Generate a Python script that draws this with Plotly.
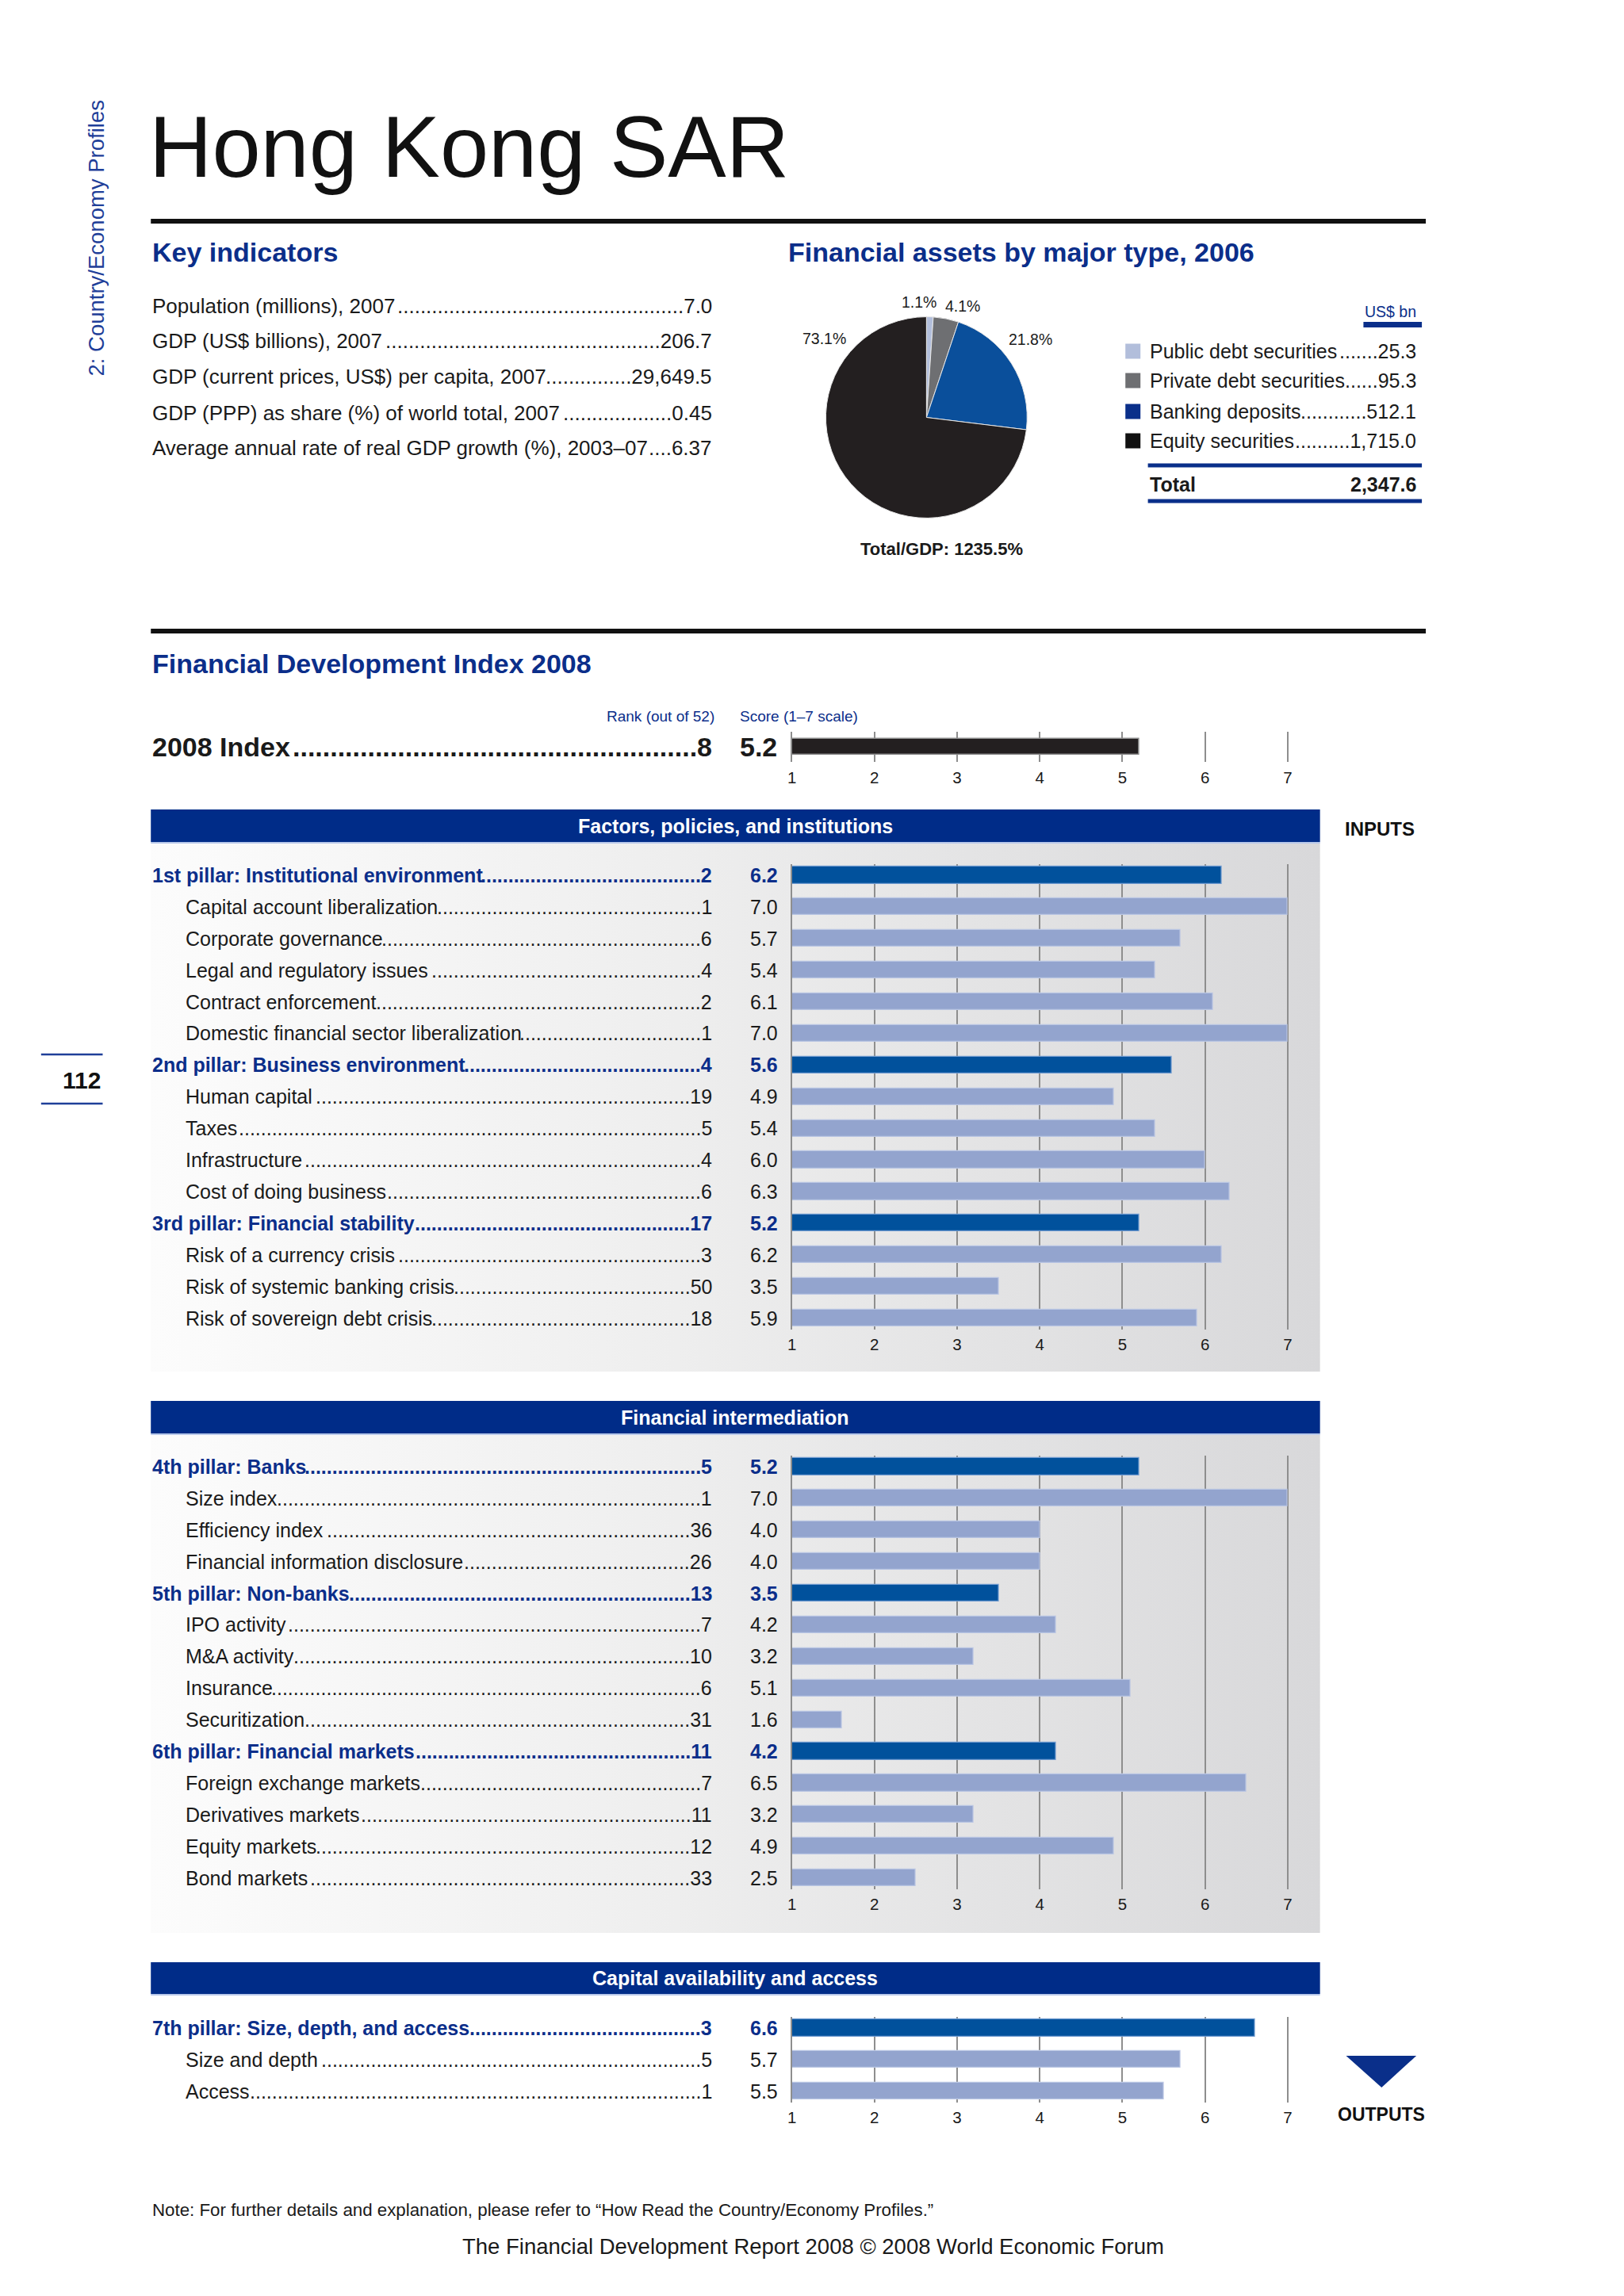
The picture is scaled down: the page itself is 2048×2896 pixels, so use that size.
import plotly.graph_objects as go

W, H = 2048, 2896
OFF = 8
FW = W - 2 * OFF
FH = H - 2 * OFF - 4

# ---------------- data ----------------
page_title = "Hong Kong SAR"
side_label = "2: Country/Economy Profiles"
page_number = "112"

key_labels = [
    "Population (millions), 2007",
    "GDP (US$ billions), 2007",
    "GDP (current prices, US$) per capita, 2007",
    "GDP (PPP) as share (%) of world total, 2007",
    "Average annual rate of real GDP growth (%), 2003–07",
]
key_values = ["7.0", "206.7", "29,649.5", "0.45", "6.37"]

asset_types = ["Public debt securities", "Private debt securities",
               "Banking deposits", "Equity securities"]
asset_values = [25.3, 95.3, 512.1, 1715.0]
asset_total = 2347.6
assets_to_gdp = 1235.5

index_rank = 8
index_score = 5.2

p1_labels = ["1st pillar: Institutional environment", "Capital account liberalization",
             "Corporate governance", "Legal and regulatory issues", "Contract enforcement",
             "Domestic financial sector liberalization", "2nd pillar: Business environment",
             "Human capital", "Taxes", "Infrastructure", "Cost of doing business",
             "3rd pillar: Financial stability", "Risk of a currency crisis",
             "Risk of systemic banking crisis", "Risk of sovereign debt crisis"]
p1_ranks = [2, 1, 6, 4, 2, 1, 4, 19, 5, 4, 6, 17, 3, 50, 18]
p1_scores = [6.2, 7.0, 5.7, 5.4, 6.1, 7.0, 5.6, 4.9, 5.4, 6.0, 6.3, 5.2, 6.2, 3.5, 5.9]

p2_labels = ["4th pillar: Banks", "Size index", "Efficiency index",
             "Financial information disclosure", "5th pillar: Non-banks", "IPO activity",
             "M&A activity", "Insurance", "Securitization", "6th pillar: Financial markets",
             "Foreign exchange markets", "Derivatives markets", "Equity markets", "Bond markets"]
p2_ranks = [5, 1, 36, 26, 13, 7, 10, 6, 31, 11, 7, 11, 12, 33]
p2_scores = [5.2, 7.0, 4.0, 4.0, 3.5, 4.2, 3.2, 5.1, 1.6, 4.2, 6.5, 3.2, 4.9, 2.5]

p3_labels = ["7th pillar: Size, depth, and access", "Size and depth", "Access"]
p3_ranks = [3, 5, 1]
p3_scores = [6.6, 5.7, 5.5]

panel_titles = ["Factors, policies, and institutions", "Financial intermediation",
                "Capital availability and access"]
score_ticks = [1, 2, 3, 4, 5, 6, 7]

note_text = "Note: For further details and explanation, please refer to “How Read the Country/Economy Profiles.”"
footer_text = "The Financial Development Report 2008 © 2008 World Economic Forum"

# ---------------- styling ----------------
FONT = "Liberation Sans, Arial, Helvetica, sans-serif"
BLACK = "#1a1a1a"
NAVY_TXT = "#0b2e8a"
HEADER = "#002c88"
PILLAR_BAR = "#01519c"
SUB_BAR = "#93a4ce"
GRID = "#8e8e8e"
PIE_COLORS = ["#b2bedb", "#6e6f72", "#0a4f9b", "#231f20"]
LEG_COLORS = ["#b2bedb", "#6e6f72", "#0a2f8a", "#111111"]

# Arial / Liberation Sans advance widths (1/1000 em)
REG = {' ': 278, '%': 889, '&': 667, '(': 333, ')': 333, ',': 278, '-': 333, '.': 278,
       '/': 278, ':': 278, '$': 556, '–': 556, '©': 737, '“': 333, '”': 333,
       'A': 667, 'B': 667, 'C': 722, 'D': 722, 'E': 667, 'F': 611, 'G': 778, 'H': 722,
       'I': 278, 'J': 500, 'K': 667, 'L': 556, 'M': 833, 'N': 722, 'O': 778, 'P': 667,
       'Q': 778, 'R': 722, 'S': 667, 'T': 611, 'U': 722, 'V': 667, 'W': 944, 'X': 667,
       'Y': 667, 'Z': 611, 'a': 556, 'b': 556, 'c': 500, 'd': 556, 'e': 556, 'f': 278,
       'g': 556, 'h': 556, 'i': 222, 'j': 222, 'k': 500, 'l': 222, 'm': 833, 'n': 556,
       'o': 556, 'p': 556, 'q': 556, 'r': 333, 's': 500, 't': 278, 'u': 556, 'v': 500,
       'w': 722, 'x': 500, 'y': 500, 'z': 500}
BOLD = dict(REG)
BOLD.update({':': 333, '&': 722, 'A': 722, 'B': 722, 'J': 556, 'K': 722, 'L': 611,
             'b': 611, 'c': 556, 'd': 611, 'f': 333, 'g': 611, 'h': 611, 'i': 278,
             'j': 278, 'k': 556, 'l': 278, 'm': 889, 'n': 611, 'o': 611, 'p': 611,
             'q': 611, 'r': 389, 's': 556, 't': 333, 'u': 611, 'v': 556, 'w': 778,
             'x': 556, 'y': 556})


def tw(t, size, bold=False):
    tbl = BOLD if bold else REG
    return sum(tbl.get(c, 556) for c in t) / 1000 * size


def leader(label, value, x_left, x_right, size, bold=False):
    start = x_left + tw(label, size, bold) + 3
    end = x_right - tw(value, size, bold) - 1
    n = max(0, int((end - start) / tw(".", size, bold)))
    return "." * n + value


def dx(px):
    return (px - OFF) / FW


def dy(py):
    return 1 - (py - OFF) / FH


annotations = []
shapes = []


def text(t, x, y, size, color=BLACK, bold=False, xanchor="left",
         yanchor="middle", yref="y", angle=0):
    t = t.replace("&", "&amp;")
    if bold:
        t = "<b>" + t + "</b>"
    annotations.append(dict(text=t, x=x, y=y, xref="x", yref=yref, xanchor=xanchor,
                            yanchor=yanchor, showarrow=False, textangle=angle,
                            font=dict(family=FONT, size=size, color=color)))


def rect(x0, y0, x1, y1, color):
    shapes.append(dict(type="rect", xref="x", yref="y", x0=x0, y0=y0, x1=x1, y1=y1,
                       fillcolor=color, line=dict(width=0), layer="above"))


def hline(x0, x1, y, color, width):
    shapes.append(dict(type="line", xref="x", yref="y", x0=x0, x1=x1, y0=y, y1=y,
                       line=dict(color=color, width=width), layer="above"))


fig = go.Figure()

# ---------------- page header ----------------
text(page_title, 181, 184, 110, color="#111111")
hline(185, 1800, 279, "#111111", 6)
text(side_label, 115, 301, 27.5, color="#1f3f99", xanchor="center", angle=-90)
hline(46, 124, 1330, "#1f3f99", 2.5)
hline(46, 124, 1392, "#1f3f99", 2.5)
text(page_number, 124, 1362, 30, color="#111111", bold=True, xanchor="right")

# ---------------- key indicators ----------------
text("Key indicators", 185, 318, 34, color=NAVY_TXT, bold=True)
KEY_Y = [386, 430, 475, 521, 565]
KSIZE = 26
for lab, val, y in zip(key_labels, key_values, KEY_Y):
    text(lab, 185, y, KSIZE)
    text(leader(lab, val, 185, 898, KSIZE), 898, y, KSIZE, xanchor="right")

# ---------------- financial assets pie ----------------
text("Financial assets by major type, 2006", 990, 318, 34, color=NAVY_TXT, bold=True)
fig.add_trace(go.Pie(labels=asset_types, values=asset_values, sort=False,
                     direction="clockwise", rotation=0, textinfo="none",
                     marker=dict(colors=PIE_COLORS, line=dict(color="#e8e8e8", width=1)),
                     domain=dict(x=[dx(1040), dx(1295)], y=[dy(656), dy(397)]),
                     hoverinfo="label+value", showlegend=False))
tot = sum(asset_values)
PCT_POS = [(1158, 381, "center"), (1213, 386, "center"), (1270, 428, "left"), (1068, 427, "right")]
for v, (px, py, anc) in zip(asset_values, PCT_POS):
    text(f"{v / tot * 100:.1f}%", px, py, 19.5, xanchor=anc)
text(f"Total/GDP: {assets_to_gdp:.1f}%", 1187, 692, 22, bold=True, xanchor="center")

# legend table
text("US$ bn", 1790, 393, 19.5, color=NAVY_TXT, xanchor="right")
rect(1721, 406, 1795, 413, "#0a2f8a")
LEG_Y = [443, 480, 519, 556]
LSIZE = 25
fig.add_trace(go.Scatter(x=[1429] * 4, y=LEG_Y, mode="markers", xaxis="x", yaxis="y",
                         marker=dict(symbol="square", size=19, color=LEG_COLORS),
                         hoverinfo="skip", showlegend=False))
for lab, v, y in zip(asset_types, asset_values, LEG_Y):
    text(lab, 1448, y, LSIZE)
    text(leader(lab, f"{v:,.1f}", 1448, 1790, LSIZE), 1790, y, LSIZE, xanchor="right")
hline(1448, 1795, 587, "#0a2f8a", 5)
text("Total", 1448, 611, LSIZE, bold=True)
text(f"{asset_total:,.1f}", 1790, 611, LSIZE, bold=True, xanchor="right")
hline(1448, 1795, 632, "#0a2f8a", 5)

# ---------------- Financial Development Index ----------------
hline(185, 1800, 796, "#111111", 6)
text("Financial Development Index 2008", 185, 837, 34, color=NAVY_TXT, bold=True)
text("Rank (out of 52)", 901, 903, 19, color=NAVY_TXT, xanchor="right")
text("Score (1–7 scale)", 929, 903, 19, color=NAVY_TXT)

BAR_X0, BAR_X1 = 997, 1625
UNIT = (BAR_X1 - BAR_X0) / 6.0
EXT = 0.03
axes = {}


def add_axes(n, idx, top, bottom, pad):
    xa = dict(domain=[dx(BAR_X0), dx(BAR_X1 + EXT * UNIT)],
              range=[1, 7 + EXT], anchor=f"y{idx}",
              tickvals=score_ticks, ticktext=[str(t) for t in score_ticks], ticks="",
              showgrid=True, gridcolor=GRID, gridwidth=1.6, zeroline=False, showline=False,
              ticklabelstandoff=5,
              tickfont=dict(family=FONT, size=20.5, color=BLACK), fixedrange=True)
    ya = dict(domain=[dy(bottom), dy(top)], range=[n - 1 + pad, -pad], anchor=f"x{idx}",
              showticklabels=False, showgrid=False, zeroline=False,
              showline=True, linecolor=GRID, linewidth=1.6, side="left",
              fixedrange=True)
    axes[f"xaxis{idx}"] = xa
    axes[f"yaxis{idx}"] = ya


# index row
add_axes(1, 2, 923, 961, 0.5)
fig.add_trace(go.Bar(x=[index_score - 1], base=1, y=[0], orientation="h", xaxis="x2", yaxis="y2",
                     width=0.53, marker=dict(color="#231f20", line=dict(color="#8a8a8a", width=1.5)),
                     hoverinfo="skip", showlegend=False))
ISIZE = 34
text("2008 Index", 185, 0, ISIZE, bold=True, yref="y2")
text(leader("2008 Index", str(index_rank), 185, 898, ISIZE, True), 898, 0, ISIZE,
     bold=True, xanchor="right", yref="y2")
text(f"{index_score:.1f}", 929, 0, ISIZE, bold=True, yref="y2")

# ---------------- pillar panels ----------------
STEP = 39.9
RSIZE = 25
panels = [
    (p1_labels, p1_ranks, p1_scores, 3, 1104, (1021, 1062), (1062, 1730)),
    (p2_labels, p2_ranks, p2_scores, 4, 1850, (1767, 1808), (1808, 2438)),
    (p3_labels, p3_ranks, p3_scores, 5, 2558, (2475, 2515), None),
]

# gradient backgrounds first (drawn underneath)
for labels, ranks, scores, idx, first, hdr, bg in panels:
    if bg:
        fig.add_trace(go.Scatter(x=[185, 1666, 1666, 185, 185],
                                 y=[bg[0], bg[0], bg[1], bg[1], bg[0]],
                                 xaxis="x", yaxis="y", mode="lines", fill="toself",
                                 line=dict(width=0),
                                 fillgradient=dict(type="horizontal",
                                                   colorscale=[[0, "#fcfcfc"], [0.45, "#eeeeee"],
                                                               [1, "#d8d8da"]]),
                                 hoverinfo="skip", showlegend=False))

for (labels, ranks, scores, idx, first, hdr, bg), ptitle in zip(panels, panel_titles):
    n = len(labels)
    pad = 0.35
    top = first - pad * STEP
    bottom = first + (n - 1 + pad) * STEP
    add_axes(n, idx, top, bottom, pad)
    pillar = ["pillar:" in l for l in labels]
    fig.add_trace(go.Bar(x=[s - 1 for s in scores], base=1, y=list(range(n)), orientation="h",
                         xaxis=f"x{idx}", yaxis=f"y{idx}", width=0.53,
                         marker=dict(color=[PILLAR_BAR if p else SUB_BAR for p in pillar],
                                     line=dict(color=["#6f9ad0" if p else "#b9c5e3" for p in pillar],
                                               width=1.2)),
                         hoverinfo="skip", showlegend=False))
    rect(185, hdr[0], 1666, hdr[1], HEADER)
    hline(185, 1666, hdr[1] + 1, "#b8c8ea", 2)
    text(ptitle, 925.5, (hdr[0] + hdr[1]) / 2, 25, color="white", bold=True, xanchor="center")
    for i, (lab, rk, sc, p) in enumerate(zip(labels, ranks, scores, pillar)):
        col = NAVY_TXT if p else BLACK
        xl = 185 if p else 227
        yr = f"y{idx}"
        text(lab, xl, i, RSIZE, color=col, bold=p, yref=yr)
        text(leader(lab, str(rk), xl, 898, RSIZE, p), 898, i, RSIZE, color=col, bold=p,
             xanchor="right", yref=yr)
        text(f"{sc:.1f}", 942, i, RSIZE, color=col, bold=p, yref=yr)

# inputs / outputs markers
text("INPUTS", 1742, 1045, 24, color="#111111", bold=True, xanchor="center")
shapes.append(dict(type="path", xref="x", yref="y", path="M1699,2593 L1788,2593 L1744,2633 Z",
                   fillcolor="#0a2f8a", line=dict(width=0), layer="above"))
text("OUTPUTS", 1744, 2667, 23, color="#111111", bold=True, xanchor="center")

# footer
text(note_text, 185, 2787, round(984 / tw(note_text, 1), 1))
text(footer_text, 1024, 2833, round(885 / tw(footer_text, 1), 1), xanchor="center")

fig.update_layout(
    width=FW, height=FH, autosize=False,
    margin=dict(l=0, r=0, t=0, b=0, pad=0),
    paper_bgcolor="white", plot_bgcolor="rgba(0,0,0,0)",
    showlegend=False, bargap=0,
    xaxis=dict(domain=[0, 1], range=[OFF, OFF + FW], visible=False, fixedrange=True),
    yaxis=dict(domain=[0, 1], range=[OFF + FH, OFF], visible=False, fixedrange=True),
    annotations=annotations, shapes=shapes,
    **axes,
)

fig.write_html("out.html")
